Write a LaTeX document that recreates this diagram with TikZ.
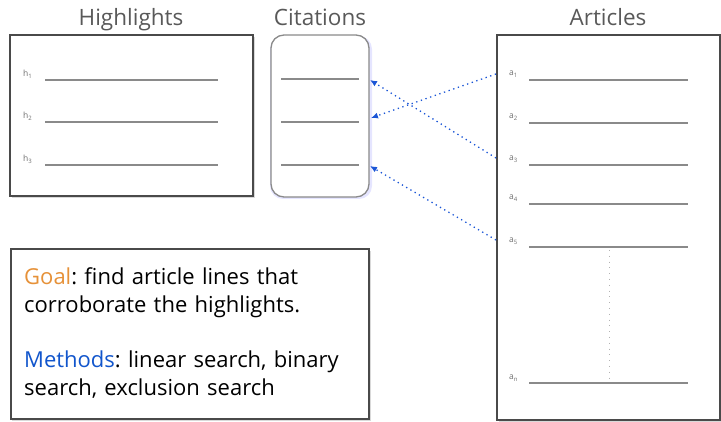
\documentclass[tikz,border=0pt]{standalone}
\usepackage{fontspec}
\setmainfont{Open Sans}
\usetikzlibrary{arrows.meta}
\definecolor{framegray}{HTML}{4A4A4A}
\definecolor{rulegray}{HTML}{8A8A8A}
\definecolor{idxgray}{HTML}{707070}
\definecolor{titlegray}{HTML}{595959}
\definecolor{linkblue}{HTML}{1A55D6}
\definecolor{goalorange}{HTML}{E69138}
\definecolor{methodblue}{HTML}{1155CC}
\frenchspacing
\tikzset{
  panel/.style={draw=framegray, line width=1.3pt, fill=white},
  shade/.style={fill=black!15, draw=none},
  title/.style={text=titlegray, font=\fontsize{22.5}{22.5}\selectfont, anchor=base},
  textline/.style={draw=rulegray, line width=1.3pt},
  idx/.style={text=idxgray, font=\fontsize{8.5}{8.5}\selectfont, anchor=base west, inner sep=0pt},
  link/.style={draw=linkblue, line width=1.3pt, dash pattern=on 1.3pt off 3.6pt,
    -{Latex[length=7pt,width=6pt]}},
}
\newcommand{\lbl}[2]{#1\raisebox{-2pt}{\fontsize{6}{6}\selectfont #2}}
\begin{document}
\begin{tikzpicture}[x=1pt,y=-1pt]
\path[use as bounding box] (0,0) rectangle (721,422);

% column titles
\node[title] (thl) at (131,26) {Highlights};
\node[title] (tct) at (320,26) {Citations};
\node[title] (tar) at (608,26) {Articles};

% highlights panel
\fill[shade] (12,37) rectangle (255,198);
\draw[panel] (10,35) rectangle (253,196);
\foreach \i/\y in {1/80,2/122,3/165}{
  \coordinate (hs\i) at (45,\y);
  \coordinate (he\i) at (218,\y);
  \draw[textline] (hs\i) -- (he\i);
  \node[idx] (hl\i) at (23,\y-3) {\lbl{h}{\i}};
}

% citations panel
\fill[blue!10, rounded corners=13pt] (270,36) rectangle (372,199);
\draw[draw=rulegray, line width=1.3pt, fill=white, rounded corners=13pt]
  (271,35) rectangle (369,197);
\foreach \i/\y in {1/79,2/122,3/165}{
  \coordinate (cs\i) at (281,\y);
  \coordinate (ce\i) at (359,\y);
  \draw[textline] (cs\i) -- (ce\i);
  \coordinate (ct\i) at (370,\y+1);
}

% articles panel
\fill[shade] (499,37) rectangle (722,423);
\draw[panel] (497,35) rectangle (720,420);
\foreach \i/\y in {1/80,2/123,3/165,4/204,5/247}{
  \coordinate (as\i) at (529,\y);
  \coordinate (ae\i) at (688,\y);
  \draw[textline] (as\i) -- (ae\i);
  \node[idx] (al\i) at (509,\y-4) {\lbl{a}{\i}};
}
\coordinate (asn) at (529,383);
\coordinate (aen) at (688,383);
\draw[textline] (asn) -- (aen);
\node[idx] (aln) at (509,379) {\lbl{a}{n}};
\coordinate (gaptop) at (609,250);
\coordinate (gapbot) at (609,380);
\draw[draw=black!30, line width=0.8pt, dash pattern=on 0.8pt off 5pt] (gaptop) -- (gapbot);

% links from article lines to citation slots
\coordinate (ar1) at (496,74);
\coordinate (ar3) at (496,158);
\coordinate (ar5) at (496,240);
\coordinate (ct2) at (371,118);
\draw[link] (ar1) -- (ct2);
\draw[link] (ar3) -- (ct1);
\draw[link] (ar5) -- (ct3);

% goal / methods panel
\fill[shade] (12,251) rectangle (371,421);
\draw[panel] (11,249) rectangle (369,419);
\node[anchor=base west, align=left, inner sep=0pt, text width=345pt,
      font=\fontsize{22}{28}\selectfont] (goal) at (24,285)
  {\textcolor{goalorange}{Goal}: find article lines that\\
   corroborate the highlights.\\[27pt]
   \textcolor{methodblue}{Methods}: linear search, binary\\
   search, exclusion search};
\end{tikzpicture}
\end{document}
